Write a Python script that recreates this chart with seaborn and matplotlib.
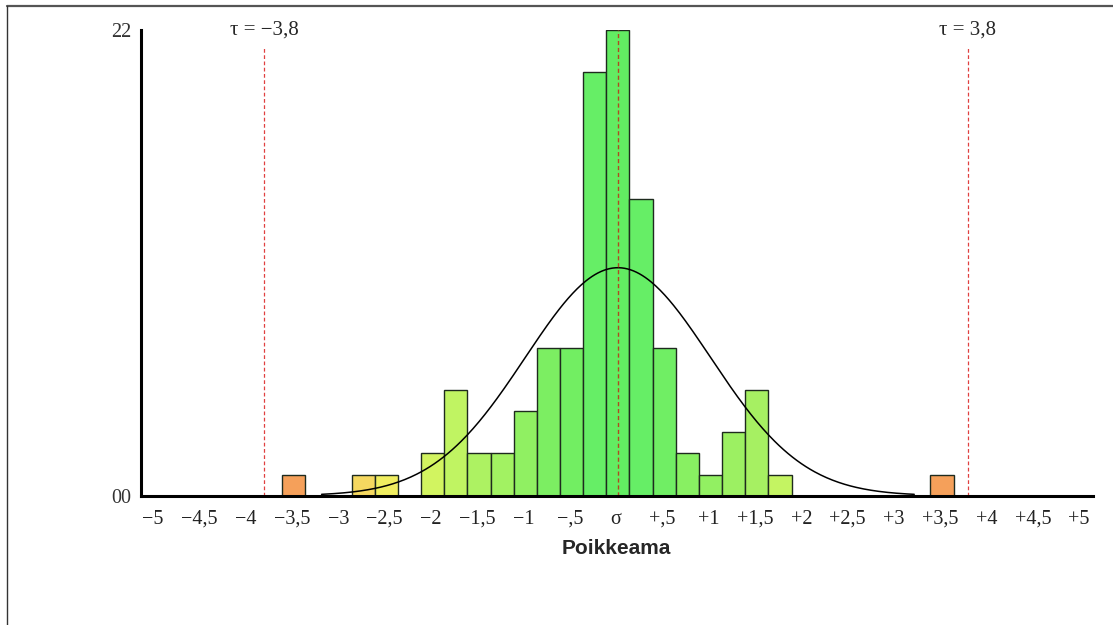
import numpy as np
import matplotlib
matplotlib.use("Agg")
import matplotlib.pyplot as plt
import seaborn as sns
from matplotlib.lines import Line2D

# histogrammin luokat (sigma-yksikköinä) ja frekvenssit
bin_centers = [-3.48, -2.73, -2.48, -1.98, -1.73, -1.48, -1.23, -0.98, -0.73, -0.48,
               -0.23, 0.02, 0.27, 0.52, 0.77, 1.02, 1.27, 1.52, 1.77, 3.52]
counts = [1, 1, 1, 2, 5, 2, 2, 4, 7, 7, 20, 22, 14, 7, 2, 1, 3, 5, 1, 1]
bar_colors = ['#F5A05A', '#F5D860', '#F0EE60', '#D2F460', '#C0F462', '#ADF262',
              '#A2F262', '#90F062', '#7CEE62', '#72EE62', '#66EE66', '#62EC62',
              '#66EE66', '#70EE64', '#88F062', '#92F062', '#9CF062', '#A6F062',
              '#C4F462', '#F5A05A']

tick_pos = [-5, -4.5, -4, -3.5, -3, -2.5, -2, -1.5, -1, -0.5, 0,
            0.5, 1, 1.5, 2, 2.5, 3, 3.5, 4, 4.5, 5]
tick_labels = ['−5', '−4,5', '−4', '−3,5', '−3', '−2,5', '−2', '−1,5', '−1', '−,5', 'σ',
               '+,5', '+1', '+1,5', '+2', '+2,5', '+3', '+3,5', '+4', '+4,5', '+5']

mean = 0.02
sd = 1.0
bin_width = 0.25
tau = 3.8
y_max = 22

sns.set_style("white")
plt.rcParams['font.family'] = ['Liberation Serif', 'DejaVu Serif']

fig = plt.figure(figsize=(11.13, 6.25), dpi=100)
ax = fig.add_axes([0.1267, 0.2069, 0.8553, 0.745])

hue_keys = [f"{c:.2f}" for c in bin_centers]
sns.barplot(x=bin_centers, y=counts, hue=hue_keys, palette=bar_colors,
            native_scale=True, width=1.0, errorbar=None, legend=False,
            edgecolor='#1E2A1E', linewidth=1.0, saturation=1, ax=ax)

# normaalijakaumakäyrä
n_total = sum(counts)
xs = np.linspace(mean - 3.2 * sd, mean + 3.2 * sd, 400)
ys = n_total * bin_width * np.exp(-0.5 * ((xs - mean) / sd) ** 2) / (sd * np.sqrt(2 * np.pi))
sns.lineplot(x=xs, y=ys, color='black', linewidth=1.1, ax=ax, zorder=4)

# keskiarvo ja tau-rajat
ax.vlines(mean, 0, y_max, colors='#B04A20', linestyles=(0, (3, 2)), linewidth=1.0, zorder=5)
for t in (-tau, tau):
    ax.vlines(t, 0, 21.25, colors='#E04040', linestyles=(0, (3, 2)), linewidth=0.9, zorder=5)
ax.text(-tau, y_max, 'τ = −3,8', ha='center', va='center', fontsize=15, clip_on=False)
ax.text(tau, y_max, 'τ = 3,8', ha='center', va='center', fontsize=15, clip_on=False)

ax.set_xlim(-5.13, 5.15)
ax.set_ylim(0, y_max)
ax.set_xticks(tick_pos)
ax.set_xticklabels(tick_labels, fontsize=14.5)
ax.set_yticks([0, y_max])
ax.set_yticklabels(['00', '22'], fontsize=14.5)
ax.tick_params(axis='x', length=0, pad=10, colors='#222222')
ax.tick_params(axis='y', length=0, pad=7, colors='#333333')
ax.set_xlabel('')
ax.set_ylabel('')
for side in ('top', 'right'):
    ax.spines[side].set_visible(False)
for side in ('left', 'bottom'):
    ax.spines[side].set_linewidth(2.2)
    ax.spines[side].set_color('black')
    ax.spines[side].set_zorder(6)

fig.text(616 / 1113, 1 - 548 / 625, 'Poikkeama', ha='center', va='center',
         fontsize=15, fontweight='bold', family=['Liberation Sans', 'DejaVu Sans'])

# kuvan reunaviivat
fig.add_artist(Line2D([7 / 1113, 1], [1 - 6 / 625, 1 - 6 / 625], color='#555555', linewidth=1.6))
fig.add_artist(Line2D([7 / 1113, 7 / 1113], [0, 1 - 6 / 625], color='#333333', linewidth=1.0))

fig.savefig('out.png', dpi=100, facecolor='white')
